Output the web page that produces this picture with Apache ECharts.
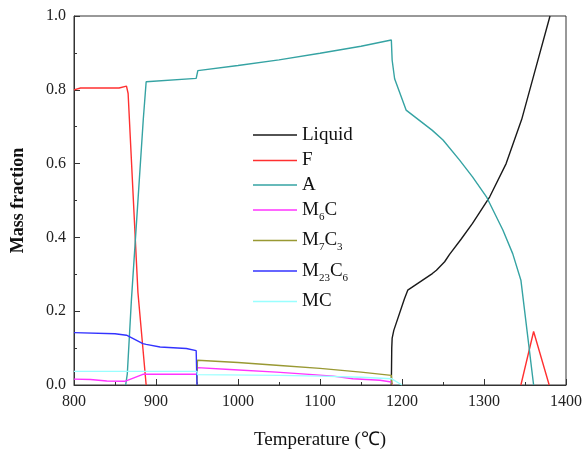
<!DOCTYPE html>
<html>
<head>
<meta charset="utf-8">
<script src="https://cdn.jsdelivr.net/npm/echarts@6/dist/echarts.min.js"></script>
<style>html,body{margin:0;padding:0;background:#fff}#c{width:585px;height:457px}</style>
</head>
<body>
<div id="c"></div>
<script>
// ---- data (temperature in °C, mass fraction) ----
var xTicks = [800, 900, 1000, 1100, 1200, 1300, 1400];
var yTicks = [0.0, 0.2, 0.4, 0.6, 0.8, 1.0];
var seriesNames = ['Liquid', 'F', 'A', 'M6C', 'M7C3', 'M23C6', 'MC'];

var liquid = [[1187,0],[1187.5,0.10],[1188,0.127],[1190,0.148],[1203,0.234],[1207,0.257],[1209,0.261],
  [1237,0.302],[1242,0.311],[1252,0.334],[1258,0.354],[1272,0.395],[1286,0.438],[1307,0.51],
  [1327,0.60],[1346,0.72],[1362,0.85],[1380.5,1.0]];
var ferriteLow = [[800,0.80],[808,0.805],[855,0.805],[864,0.81],[866,0.79],[878,0.25],[888,0]];
var ferriteHigh = [[1345,0],[1360.5,0.145],[1379.5,0]];
var austenite = [[863,0],[865,0.03],[870,0.23],[884.5,0.72],[888,0.822],[949,0.831],[951,0.852],
  [1000,0.866],[1050,0.881],[1100,0.899],[1150,0.918],[1187,0.935],[1188,0.88],[1191,0.83],
  [1205,0.745],[1237,0.69],[1250,0.664],[1270,0.61],[1286,0.564],[1303,0.51],[1323,0.42],
  [1335,0.356],[1345,0.284],[1360.5,0]];
var m6c = [[800,0.016],[820,0.015],[840,0.011],[862,0.010],[884,0.029],[950,0.029],[950.5,0.047],
  [990,0.042],[1047,0.035],[1091,0.028],[1116,0.024],[1140,0.017],[1173,0.013],[1187,0.008],[1189,0]];
var m7c3 = [[950,0],[950.5,0.067],[1000,0.061],[1051,0.053],[1100,0.045],[1150,0.035],[1187,0.026],[1188,0]];
var m23c6 = [[800,0.142],[850,0.139],[864,0.135],[884,0.112],[888,0.11],[905,0.103],[937,0.099],
  [949,0.093],[950,0]];
var mc = [[800,0.037],[950,0.037],[950.5,0.028],[1050,0.026],[1100,0.024],[1150,0.021],[1187,0.017],[1200,0]];
// ---------------------------------------------------

var colors = {Liquid:'#1a1a1a', F:'#ff3030', A:'#35a3a3', M6C:'#ff33ff', M7C3:'#999933', M23C6:'#3333ff', MC:'#99ffff'};
var labelsRich = {Liquid:'Liquid', F:'F', A:'A', M6C:'M{s|6}C', M7C3:'M{s|7}C{s|3}', M23C6:'M{s|23}C{s|6}', MC:'MC'};
var legendRows = [135, 160.5, 185, 209.5, 240, 270.5, 301.5];

var serif = '"Liberation Serif","Times New Roman",serif';
var chart = echarts.init(document.getElementById('c'), null, {renderer:'canvas'});

function mkSeries(name, data) {
  return {name:name, type:'line', data:data, symbol:'none', connectNulls:false,
    lineStyle:{color:colors[name], width:1.4}, itemStyle:{color:colors[name]}, animation:false};
}

var legends = seriesNames.map(function(n, i){
  return {
    data:[n], orient:'vertical', left:253, top:legendRows[i]-12, padding:0,
    icon:'rect', itemWidth:44, itemHeight:1.6, itemGap:0,
    formatter:function(name){ return labelsRich[name]; },
    textStyle:{fontFamily:serif, fontSize:19, color:'#111', lineHeight:24,
      rich:{s:{fontFamily:serif, fontSize:11, color:'#111', lineHeight:25, verticalAlign:'bottom'}}},
    selectedMode:false
  };
});

var option = {
  backgroundColor:'#fff',
  animation:false,
  grid:{left:74, right:18, top:16, bottom:72, show:true, borderColor:'#333', borderWidth:1, backgroundColor:'transparent'},
  legend: legends,
  xAxis:{type:'value', min:xTicks[0], max:xTicks[xTicks.length-1], interval:100,
    name:'Temperature (\u2103)', nameLocation:'middle', nameGap:46,
    nameTextStyle:{fontFamily:serif, fontSize:19, color:'#111'},
    axisLine:{lineStyle:{color:'#333', width:1}},
    axisTick:{inside:true, length:6, lineStyle:{color:'#333'}},
    minorTick:{show:true, splitNumber:2, length:3, lineStyle:{color:'#333'}},
    axisLabel:{fontFamily:serif, fontSize:16, color:'#222', margin:9, formatter:function(v){return String(v);}},
    splitLine:{show:false}},
  yAxis:{type:'value', min:yTicks[0], max:yTicks[yTicks.length-1], interval:0.2,
    name:'Mass fraction', nameLocation:'middle', nameGap:47,
    nameTextStyle:{fontFamily:serif, fontSize:18, fontWeight:'bold', color:'#111'},
    axisLine:{lineStyle:{color:'#333', width:1}},
    axisTick:{inside:true, length:6, lineStyle:{color:'#333'}},
    minorTick:{show:true, splitNumber:2, length:3, lineStyle:{color:'#333'}},
    axisLabel:{fontFamily:serif, fontSize:16, color:'#222', margin:8, formatter:function(v){return v.toFixed(1);}},
    splitLine:{show:false}},
  series:[
    mkSeries('Liquid', liquid),
    mkSeries('F', ferriteLow.concat([['-','-']], ferriteHigh)),
    mkSeries('A', austenite),
    mkSeries('M6C', m6c),
    mkSeries('M7C3', m7c3),
    mkSeries('M23C6', m23c6),
    mkSeries('MC', mc)
  ]
};
chart.setOption(option);
</script>
</body>
</html>
